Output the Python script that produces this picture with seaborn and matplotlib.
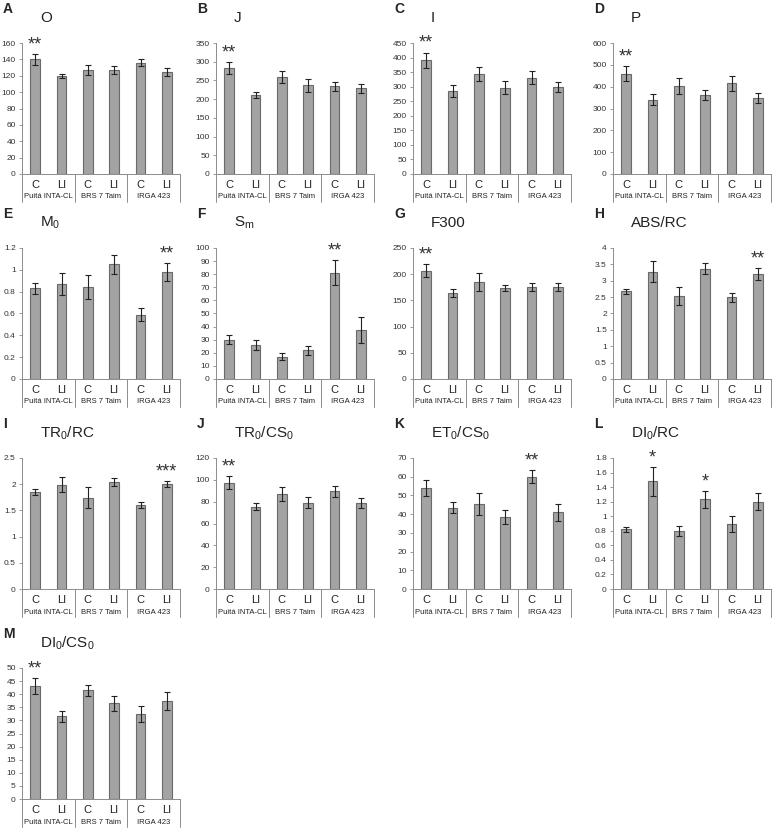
import numpy as np
import pandas as pd
import matplotlib
matplotlib.use("Agg")
import matplotlib.pyplot as plt
import matplotlib.transforms as mtransforms
import seaborn as sns

sns.set_style("ticks")
plt.rcParams['font.family'] = ['Liberation Sans', 'DejaVu Sans']
plt.rcParams['mathtext.fontset'] = 'custom'
plt.rcParams['mathtext.rm'] = 'Liberation Sans'
plt.rcParams['mathtext.it'] = 'Liberation Sans'

# cultivars and treatments
cultivars = ["Puitá INTA-CL", "BRS 7 Taim", "IRGA 423"]
treatments = ["C", "LI"]

# panel letters, titles, y ranges
letters = ["A", "B", "C", "D", "E", "F", "G", "H", "I", "J", "K", "L", "M"]
titles = ["O", "J", "I", "P", "M$_0$", "S$_m$", "F300", "ABS/RC",
          "TR$_0$/RC", "TR$_0$/CS$_0$", "ET$_0$/CS$_0$", "DI$_0$/RC", "DI$_0$/CS$_0$"]
ymax = [160, 350, 450, 600, 1.2, 100, 250, 4, 2.5, 120, 70, 1.8, 50]
ystep = [20, 50, 50, 100, 0.2, 10, 50, 0.5, 0.5, 20, 10, 0.2, 5]

# means (C, LI per cultivar)
means = [
    [140, 119.5, 127.5, 127.5, 136, 124.5],
    [283, 211, 259, 237, 235, 229],
    [390, 285, 343, 296, 331, 298],
    [460, 341, 403, 360, 415, 348],
    [0.83, 0.87, 0.84, 1.05, 0.59, 0.98],
    [30, 26, 17, 22, 81, 37.5],
    [207, 164, 185, 173, 175, 176],
    [2.68, 3.28, 2.54, 3.37, 2.49, 3.2],
    [1.85, 1.99, 1.74, 2.04, 1.6, 2.0],
    [97.5, 75.5, 87, 79, 89.5, 79],
    [54, 43.5, 45.5, 38.5, 60, 41],
    [0.82, 1.48, 0.80, 1.23, 0.89, 1.2],
    [43, 31.5, 41.5, 36.5, 32.5, 37.5],
]
# error bars
errors = [
    [7, 2.5, 6, 5, 4, 5],
    [17, 9, 15, 17, 12, 12],
    [27, 20, 25, 22, 22, 18],
    [33, 27, 38, 23, 33, 24],
    [0.05, 0.10, 0.11, 0.09, 0.06, 0.08],
    [3.5, 4, 2.5, 3.5, 9.5, 10],
    [12, 7, 17, 6, 8, 8],
    [0.07, 0.32, 0.27, 0.17, 0.13, 0.18],
    [0.05, 0.14, 0.2, 0.07, 0.06, 0.06],
    [6, 3.5, 6.5, 5, 5, 4.5],
    [4.5, 3, 6, 3.5, 3.5, 4.5],
    [0.03, 0.2, 0.07, 0.12, 0.11, 0.12],
    [3, 2, 2, 3, 3, 3.5],
]
# significance marks (bar index -> label)
stars = [
    {0: "**"}, {0: "**"}, {0: "**"}, {0: "**"},
    {5: "**"}, {4: "**"}, {0: "**"}, {5: "**"},
    {5: "***"}, {0: "**"}, {4: "**"}, {1: "*", 3: "*"},
    {0: "**"},
]

W, H = 777, 834
fig = plt.figure(figsize=(W / 100, H / 100), dpi=100)

col_left = [22, 216, 413, 613]
row_top = [43, 248, 458, 668]
ax_w, ax_h = 158, 131

bar_color = "#a3a3a3"
edge_color = "#6a6a6a"
line_gray = "#8c8c8c"

labels = [f"{c} {t}" for c in cultivars for t in treatments]

for i in range(13):
    r, c = divmod(i, 4)
    left, top = col_left[c], row_top[r]
    ax = fig.add_axes([left / W, (H - top - ax_h) / H, ax_w / W, ax_h / H])

    df = pd.DataFrame({"label": labels, "value": means[i]})
    sns.barplot(data=df, x="label", y="value", order=labels, color=bar_color,
                edgecolor=edge_color, linewidth=0.8, width=0.36,
                errorbar=None, saturation=1, ax=ax)
    ax.errorbar(np.arange(6), means[i], yerr=errors[i], fmt="none",
                ecolor="#222222", elinewidth=0.8, capsize=2.2, capthick=0.8)

    ax.set_xlim(-0.5, 5.5)
    ax.set_ylim(0, ymax[i])
    ax.set_yticks(np.arange(0, ymax[i] + ystep[i] / 2, ystep[i]))
    ax.yaxis.set_major_formatter(matplotlib.ticker.FuncFormatter(
        lambda v, p: f"{v:g}"))
    ax.set_xticks(np.arange(6))
    ax.set_xticklabels(treatments * 3, fontsize=8, color="#222222")
    ax.tick_params(axis="x", length=0, pad=4)
    ax.tick_params(axis="y", labelsize=6, length=2.5, width=0.6,
                   color=line_gray, pad=2, labelcolor="#333333")
    ax.set_xlabel("")
    ax.set_ylabel("")
    sns.despine(ax=ax)
    ax.spines["left"].set_color(line_gray)
    ax.spines["left"].set_linewidth(0.7)
    ax.spines["bottom"].set_color(line_gray)
    ax.spines["bottom"].set_linewidth(0.7)

    # group separators and cultivar names under the axis
    trans = mtransforms.blended_transform_factory(ax.transData, ax.transAxes)
    for xb in [-0.5, 1.5, 3.5, 5.5]:
        ax.plot([xb, xb], [0, -28 / ax_h], transform=trans, color=line_gray,
                linewidth=0.7, clip_on=False)
    for g, name in enumerate(cultivars):
        ax.text(2 * g + 0.5, -23 / ax_h, name, transform=trans, ha="center",
                va="center", fontsize=5.5, color="#222222")

    # significance stars
    for k, s in stars[i].items():
        ax.text(k, means[i][k] + errors[i][k] + ymax[i] * 0.005, s,
                ha="center", va="bottom", fontsize=13, color="#333333")

    # panel letter and title
    fig.text((left - 19) / W, 1 - (top - 34) / H, letters[i], fontsize=10,
             fontweight="bold", ha="left", va="center")
    fig.text((left + 18) / W, 1 - (top - 25) / H, titles[i], fontsize=11,
             ha="left", va="center", color="#222222")

fig.savefig("out.png", dpi=100)
